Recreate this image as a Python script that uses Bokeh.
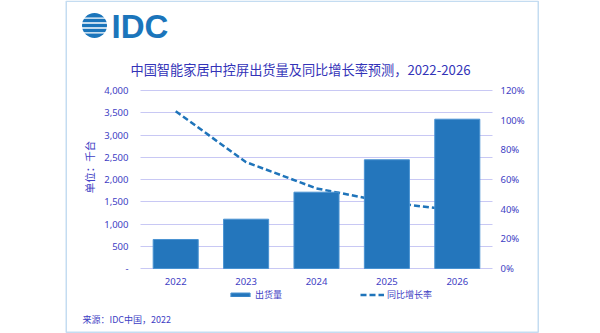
from bokeh.plotting import figure
from bokeh.models import (Label, LinearAxis, Range1d, FactorRange, FixedTicker, Grid,
                          BoxAnnotation, NumeralTickFormatter, CustomJSTickFormatter,
                          Legend, LegendItem)
from bokeh.embed import file_html
from bokeh.resources import INLINE

# ---- data ----
years = ["2022", "2023", "2024", "2025", "2026"]
shipments = [652, 1108, 1715, 2443, 3355]          # 千台
growth = [1.06, 0.717, 0.54, 0.447, 0.39]           # 同比增长率
left_ticks = [0, 500, 1000, 1500, 2000, 2500, 3000, 3500, 4000]
right_ticks = [0, 0.2, 0.4, 0.6, 0.8, 1.0, 1.2]
title_text = "中国智能家居中控屏出货量及同比增长率预测，2022-2026"
source_text = "来源：IDC中国，2022"
ylabel_text = "单位：千台"
legend_bar = "出货量"
legend_line = "同比增长率"

# ---- styling / layout (page pixels) ----
TXT = "#4040c4"
TITLE_C = "#3333b8"
BAR = "#2476bc"
BAR_EDGE = "#4a93d2"
LINE = "#1f74ba"
GRID = "#c8c8f4"
LOGO = "#1b75bb"
FRAME = "#3a8ad0"
CJK = "Noto Sans CJK SC"

W, H = 600, 333
PLOT_L, PLOT_R, PLOT_T, PLOT_B = 140, 492, 90, 268   # plotting area in page px
FRAME_L = 32                                          # canvas frame left
n = len(years)
unit = (PLOT_R - PLOT_L) / n                           # px per category
pad = ((W - FRAME_L) / unit - n) / 2
Y_MAX = left_ticks[-1]
P_MAX = right_ticks[-1]
YPX = Y_MAX / (PLOT_B - PLOT_T)                        # data units per px (left axis)


def X(px):   # page px -> categorical synthetic coordinate
    return (px - PLOT_L) / unit


def Y(py):   # page px -> left-axis data value
    return (PLOT_B - py) * YPX


def P(py):   # page px -> right-axis data value
    return (PLOT_B - py) / (PLOT_B - PLOT_T) * P_MAX


p = figure(width=W, height=H,
           x_range=FactorRange(factors=years, range_padding=pad,
                               range_padding_units="absolute"),
           y_range=Range1d(Y(H), Y(0)),
           output_backend="svg", toolbar_location=None, title_location=None,
           min_border_left=FRAME_L, min_border_right=0,
           min_border_top=0, min_border_bottom=0)
p.background_fill_color = "white"
p.border_fill_color = "white"
p.outline_line_color = None
p.extra_y_ranges = {"pct": Range1d(P(H), P(0))}

# grid
p.xgrid.grid_line_color = None
p.ygrid.ticker = FixedTicker(ticks=left_ticks)
p.ygrid.grid_line_color = GRID
p.ygrid.grid_line_width = 1
if "cross_bounds" in Grid.properties():
    p.ygrid.cross_bounds = (0, n)
else:
    p.ygrid.grid_line_color = None
    p.segment(x0=[0] * len(left_ticks), x1=[n] * len(left_ticks),
              y0=left_ticks, y1=left_ticks, line_color=GRID, line_width=1)

line_r = p.line(years, growth, y_range_name="pct", line_dash="6 3",
                line_width=2.5, line_color=LINE)
bar_r = p.vbar(x=years, top=shipments, width=0.64, fill_color=BAR,
               line_color=BAR_EDGE, line_width=1)

# left axis
ya = p.yaxis[0]
ya.fixed_location = 0
ya.ticker = FixedTicker(ticks=left_ticks)
ya.formatter = CustomJSTickFormatter(code="return tick == 0 ? '-' : tick.toLocaleString('en-US');")
ya.axis_label = ylabel_text
ya.axis_label_text_font = CJK
ya.axis_label_text_font_size = "10.5px"
ya.axis_label_text_font_style = "normal"
ya.axis_label_text_color = TXT
ya.axis_label_standoff = 4

# right axis
ra = LinearAxis(y_range_name="pct", ticker=FixedTicker(ticks=right_ticks),
                formatter=NumeralTickFormatter(format="0%"), fixed_location=n)
p.add_layout(ra, "right")

xa = p.xaxis[0]
xa.fixed_location = 0

for ax in [ya, ra, xa]:
    ax.axis_line_color = None
    ax.major_tick_line_color = None
    ax.minor_tick_line_color = None
    ax.major_label_text_color = TXT
    ax.major_label_text_font = "Noto Sans"
    ax.major_label_text_font_size = "9.5px"
ya.major_label_standoff = 6
ra.major_label_standoff = 2
xa.major_label_standoff = 3

# legend
legend = Legend(items=[LegendItem(label=legend_bar, renderers=[bar_r]),
                       LegendItem(label=legend_line, renderers=[line_r])],
                orientation="horizontal", location=(228 - FRAME_L, H - 301),
                glyph_width=24, glyph_height=5, label_standoff=3, spacing=78,
                padding=0, margin=0, border_line_color=None,
                background_fill_alpha=0, label_height=12,
                label_text_font=CJK, label_text_font_size="9px",
                label_text_color=TXT)
p.add_layout(legend, "center")

# card border
p.add_layout(BoxAnnotation(left=X(65.75), right=X(537.75), top=Y(0.75), bottom=Y(331.75),
                           fill_alpha=0, line_color=FRAME, line_width=1.5))

# IDC logo: striped globe + wordmark
GX, GY, GR = 94, 25, 12.5
p.ellipse(x=[X(GX)], y=[Y(GY)], width=[2 * GR / unit], height=[2 * GR * YPX],
          fill_color=LOGO, line_color=None)
gaps_y = [17.6, 22.5, 27.5, 32.4]
p.quad(left=[X(GX - GR - 1)] * len(gaps_y), right=[X(GX + GR + 1)] * len(gaps_y),
       top=[Y(g - 0.7) for g in gaps_y], bottom=[Y(g + 0.7) for g in gaps_y],
       fill_color="white", line_color=None)
p.add_layout(Label(x=X(111), y=Y(25.5), text="IDC", text_font="Liberation Sans",
                   text_font_size="33px", text_font_style="bold", text_color=LOGO,
                   text_align="left", text_baseline="middle"))

# title / source
p.add_layout(Label(x=X(300), y=Y(69), text=title_text, text_font=CJK,
                   text_font_size="13.2px", text_color=TITLE_C,
                   text_align="center", text_baseline="middle"))
p.add_layout(Label(x=X(82), y=Y(319), text=source_text, text_font=CJK,
                   text_font_size="9px", text_color=TXT,
                   text_align="left", text_baseline="middle"))

open("out.html", "w").write(file_html(p, INLINE))
